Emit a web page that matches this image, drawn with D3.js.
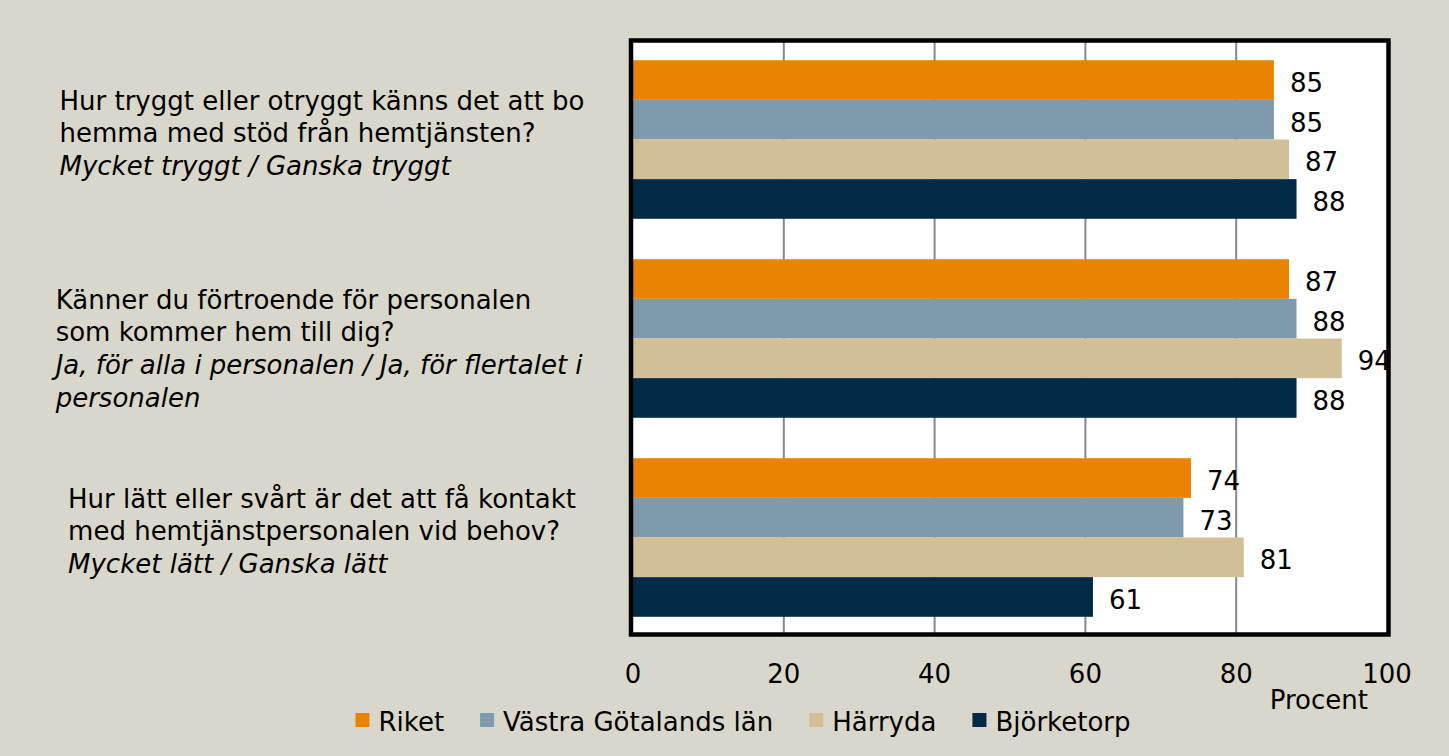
<!DOCTYPE html>
<html>
<head>
<meta charset="utf-8">
<script src="https://cdn.jsdelivr.net/npm/d3@7"></script>
<style>
  html, body { margin: 0; padding: 0; background: #d9d7cb; }
  svg { display: block; }
  text { font-family: "DejaVu Sans", sans-serif; fill: #000; }
</style>
</head>
<body>
<svg id="chart" width="1449" height="756"></svg>
<script>
(function() {

  // questions (two lines of question text + italic answer lines)
  const questionLines = [
    ['Hur tryggt eller otryggt känns det att bo', 'hemma med stöd från hemtjänsten?'],
    ['Känner du förtroende för personalen', 'som kommer hem till dig?'],
    ['Hur lätt eller svårt är det att få kontakt', 'med hemtjänstpersonalen vid behov?']
  ];
  const answerLines = [
    ['Mycket tryggt / Ganska tryggt'],
    ['Ja, för alla i personalen / Ja, för flertalet i', 'personalen'],
    ['Mycket lätt / Ganska lätt']
  ];

  const seriesNames = ['Riket', 'Västra Götalands län', 'Härryda', 'Björketorp'];
  const riket = [85, 87, 74];
  const vastraGotaland = [85, 88, 73];
  const harryda = [87, 94, 81];
  const bjorketorp = [88, 88, 61];
  const xTicks = [0, 20, 40, 60, 80, 100];
  const axisTitle = 'Procent';

  const seriesValues = [riket, vastraGotaland, harryda, bjorketorp];
  const colors = ['#e98300', '#7e9bad', '#d3bf96', '#002a45'];

  const fontSize = 26;
  const lineHeight = 32.7;

  const svg = d3.select('#chart');
  const W = 1449, H = 756;

  svg.append('rect')
    .attr('width', W).attr('height', H)
    .attr('fill', '#d9d7cb');

  const plot = { left: 633, right: 1387, top: 40, bottom: 637 };

  const x = d3.scaleLinear()
    .domain([0, 100])
    .range([plot.left, plot.right]);

  const y = d3.scaleBand()
    .domain(d3.range(questionLines.length))
    .range([plot.top, plot.bottom]);

  const ySub = d3.scaleBand()
    .domain(seriesNames)
    .range([0, y.bandwidth()])
    .paddingOuter(0.51);

  // white plot area
  svg.append('rect')
    .attr('x', plot.left - 2)
    .attr('y', plot.top)
    .attr('width', plot.right - plot.left + 2)
    .attr('height', plot.bottom - plot.top - 3)
    .attr('fill', '#fff');

  // gridlines
  svg.append('g')
    .selectAll('line')
    .data(xTicks.filter(d => d > 0 && d < 100))
    .join('line')
    .attr('x1', d => x(d)).attr('x2', d => x(d))
    .attr('y1', plot.top).attr('y2', plot.bottom - 3)
    .attr('stroke', '#888')
    .attr('stroke-width', 2);

  // bars
  const groups = svg.append('g')
    .selectAll('g')
    .data(questionLines.map((q, i) => i))
    .join('g')
    .attr('transform', i => `translate(0,${y(i)})`);

  groups.selectAll('rect')
    .data(i => seriesNames.map((s, k) => ({ s, k, v: seriesValues[k][i] })))
    .join('rect')
    .attr('x', x(0))
    .attr('y', d => ySub(d.s))
    .attr('width', d => x(d.v) - x(0))
    .attr('height', ySub.bandwidth())
    .attr('fill', d => colors[d.k]);

  groups.selectAll('text')
    .data(i => seriesNames.map((s, k) => ({ s, k, v: seriesValues[k][i] })))
    .join('text')
    .attr('x', d => x(d.v) + 16)
    .attr('y', d => ySub(d.s) + ySub.bandwidth() / 2 + 12)
    .attr('font-size', fontSize)
    .text(d => d.v);

  // frame
  svg.append('rect')
    .attr('x', 631)
    .attr('y', 40.5)
    .attr('width', 1388.5 - 631)
    .attr('height', 634.5 - 40.5)
    .attr('fill', 'none')
    .attr('stroke', '#000')
    .attr('stroke-width', 4.5);

  // x axis labels
  svg.append('g')
    .selectAll('text')
    .data(xTicks)
    .join('text')
    .attr('x', d => x(d))
    .attr('y', 683)
    .attr('text-anchor', 'middle')
    .attr('font-size', fontSize)
    .text(d => d);

  svg.append('text')
    .attr('x', 1368)
    .attr('y', 709)
    .attr('text-anchor', 'end')
    .attr('font-size', fontSize)
    .text(axisTitle);

  // category labels
  questionLines.forEach((q, i) => {
    const cy = y(i) + y.bandwidth() / 2;
    const t = svg.append('text')
      .attr('font-size', fontSize);
    const lines = q.map(s => ({ s, it: false }))
      .concat(answerLines[i].map(s => ({ s, it: true })));
    lines.forEach((l, j) => {
      t.append('tspan')
        .attr('x', 0)
        .attr('y', cy - 30 + j * lineHeight)
        .attr('font-style', l.it ? 'italic' : 'normal')
        .text(l.s);
    });
    const w = t.node().getBBox().width;
    t.attr('transform', `translate(${322 - w / 2},0)`);
  });

  // legend
  const gap = 36;
  const legend = svg.append('g');
  let lx = 0;
  seriesNames.forEach((s, k) => {
    const item = legend.append('g').attr('transform', `translate(${lx},0)`);
    item.append('rect')
      .attr('x', 0).attr('y', 713)
      .attr('width', 14).attr('height', 14)
      .attr('fill', colors[k]);
    const tt = item.append('text')
      .attr('x', 23).attr('y', 731)
      .attr('font-size', fontSize)
      .text(s);
    lx += 23 + tt.node().getComputedTextLength() + gap;
  });
  const lw = lx - gap;
  legend.attr('transform', `translate(${743 - lw / 2},0)`);

})();
</script>
</body>
</html>
